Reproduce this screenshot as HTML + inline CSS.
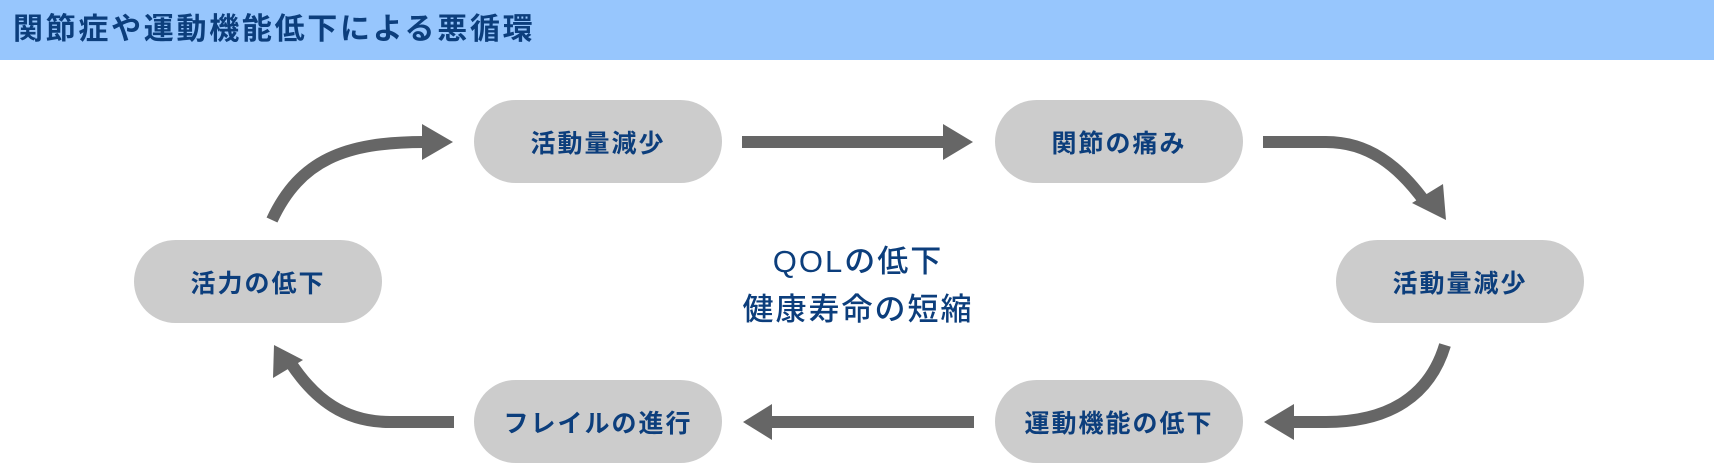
<!DOCTYPE html>
<html><head><meta charset="utf-8"><style>
body{margin:0;width:1714px;height:464px;background:#fff;position:relative;overflow:hidden;font-family:"Liberation Sans","Noto Sans CJK JP",sans-serif;}
.hdr{position:absolute;left:0;top:0;width:1714px;height:60px;background:#97c6fd;}
.hdr span{position:absolute;left:13px;top:12px;font-size:30px;line-height:36px;font-weight:bold;color:#0c3e7c;letter-spacing:2.7px;white-space:nowrap;}
.n{position:absolute;width:248px;height:83px;border-radius:42px;background:#cccccc;color:#0c3e7c;font-weight:bold;font-size:25px;letter-spacing:2px;display:flex;align-items:center;justify-content:center;white-space:nowrap;}
.c{position:absolute;left:658px;width:400px;text-align:center;color:#0c3e7c;font-size:31px;font-weight:500;letter-spacing:2px;white-space:nowrap;line-height:48px;}
svg{position:absolute;left:0;top:0;}
</style></head><body>
<div class="hdr"><span>関節症や運動機能低下による悪循環</span></div>
<svg width="1714" height="464">
<g fill="none" stroke="#666" stroke-width="12">
<path d="M742 142 L945 142"/>
<path d="M772 422 L974 422"/>
<path d="M272 220 C300 160 345 142 424 142"/>
<path d="M454 422 L390 422 C345 422 315 400 290 362"/>
<path d="M1263 142 L1326 142 C1368 142 1398 165 1425 202"/>
<path d="M1445 345 C1430 395 1390 422 1326 422 L1292 422"/>
</g>
<g fill="#666">
<polygon points="943,124 973,142 943,160"/>
<polygon points="772,404 743,422 772,440"/>
<polygon points="422,124 453,142 422,160"/>
<polygon points="274,345 273,378 303,360"/>
<polygon points="1412,203 1443,184 1446,220"/>
<polygon points="1294,404 1264,422 1294,440"/>
</g>
</svg>
<div class="n" style="left:474px;top:100px">活動量減少</div>
<div class="n" style="left:995px;top:100px">関節の痛み</div>
<div class="n" style="left:134px;top:240px">活力の低下</div>
<div class="n" style="left:1336px;top:240px">活動量減少</div>
<div class="n" style="left:474px;top:380px">フレイルの進行</div>
<div class="n" style="left:995px;top:380px">運動機能の低下</div>
<div class="c" style="top:238px">QOLの低下</div>
<div class="c" style="top:286px">健康寿命の短縮</div>
</body></html>
